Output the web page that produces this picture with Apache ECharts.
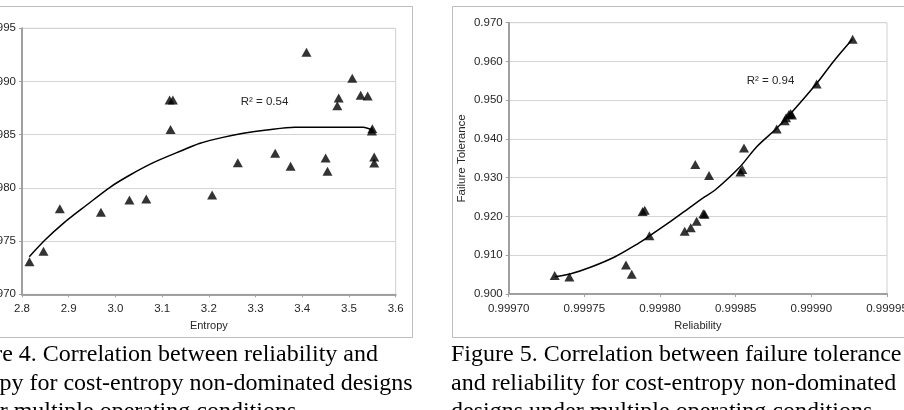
<!DOCTYPE html>
<html><head><meta charset="utf-8">
<script src="https://cdn.jsdelivr.net/npm/echarts@6/dist/echarts.min.js"></script>
<style>html,body{margin:0;padding:0;background:#fff;}#c{width:904px;height:410px;}</style>
</head><body><div id="c"></div>
<script>
// Figure 4: reliability vs entropy
const entropy = [2.816,2.846,2.881,2.969,3.030,3.066,3.118,3.116,3.123,3.207,3.262,3.342,3.375,3.409,3.450,3.454,3.475,3.478,3.507,3.525,3.540,3.549,3.550,3.554,3.554];
const reliabilityVsEntropy = [0.9997307,0.9997404,0.9997805,0.9997771,0.9997887,0.9997896,0.9998548,0.9998826,0.9998826,0.9997934,0.9998237,0.9998325,0.9998203,0.9999274,0.9998281,0.9998156,0.9998773,0.9998845,0.9999030,0.9998870,0.9998864,0.9998535,0.9998557,0.9998291,0.9998234];
const trend4X = [2.8156,2.8492,2.8884,2.9385,2.9884,3.0312,3.0811,3.1312,3.1811,3.2300,3.2738,3.3239,3.3845,3.4665,3.5307,3.5487];
const trend4Y = [0.9997353,0.9997510,0.9997667,0.9997839,0.9998006,0.9998121,0.9998237,0.9998331,0.9998419,0.9998475,0.9998513,0.9998544,0.9998570,0.9998570,0.9998570,0.9998544];
const xTicks4 = [2.8,2.9,3.0,3.1,3.2,3.3,3.4,3.5,3.6];
const yTicks4 = [0.99970,0.99975,0.99980,0.99985,0.99990,0.99995];

// Figure 5: failure tolerance vs reliability
const reliability = [0.9997304,0.9997401,0.9997775,0.9997813,0.9997885,0.9997899,0.9997930,0.9998163,0.9998203,0.9998233,0.9998242,0.9998286,0.9998295,0.9998324,0.9998531,0.9998544,0.9998555,0.9998771,0.9998824,0.9998833,0.9998852,0.9998863,0.9998872,0.9999035,0.9999273];
const failureTolerance = [0.9048,0.9044,0.9075,0.9051,0.9213,0.9216,0.9150,0.9162,0.9171,0.9334,0.9188,0.9207,0.9206,0.9306,0.9315,0.9321,0.9377,0.9426,0.9447,0.9455,0.9463,0.9466,0.9462,0.9542,0.9657];
const trend5X = [0.9997306,0.9997405,0.9997549,0.9997703,0.9997857,0.9997923,0.9998077,0.9998210,0.9998297,0.9998364,0.9998529,0.9998639,0.9998771,0.9998859,0.9999036,0.9999145,0.9999271];
const trend5Y = [0.90446,0.90516,0.90704,0.90962,0.91308,0.91478,0.91891,0.92270,0.92510,0.92683,0.93284,0.93800,0.94275,0.94636,0.95436,0.95993,0.96571];
const xTicks5 = [0.99970,0.99975,0.99980,0.99985,0.99990,0.99995];
const yTicks5 = [0.900,0.910,0.920,0.930,0.940,0.950,0.960,0.970];

const r2Label4 = 'R² = 0.54';
const r2Label5 = 'R² = 0.94';
const caption4 = ['Figure 4. Correlation between reliability and','entropy for cost-entropy non-dominated designs','under multiple operating conditions'];
const caption5 = ['Figure 5. Correlation between failure tolerance','and reliability for cost-entropy non-dominated','designs under multiple operating conditions'];

const zip = (a,b) => a.map((v,i)=>[v,b[i]]);
const SANS = '"Liberation Sans", Arial, sans-serif';
const SERIF = '"Liberation Serif", "Times New Roman", serif';
const TXT = '#262626';

function xAxisCfg(ticks, dec, name, gridIndex){
  return {
    type:'value', gridIndex, min:ticks[0], max:ticks[ticks.length-1], interval:+(ticks[1]-ticks[0]).toFixed(6),
    name, nameLocation:'middle', nameGap:26,
    nameTextStyle:{fontFamily:SANS,fontSize:11,color:TXT},
    axisLine:{show:true,onZero:false,lineStyle:{color:'#a0a0a0',width:2}},
    axisTick:{show:true,length:3,lineStyle:{color:'#a0a0a0'}},
    axisLabel:{fontFamily:SANS,fontSize:11.5,color:TXT,margin:9,hideOverlap:false,showMinLabel:true,showMaxLabel:true,formatter:v=>v.toFixed(dec)},
    splitLine:{show:false}
  };
}
function yAxisCfg(ticks, dec, name, gridIndex){
  return {
    type:'value', gridIndex, min:ticks[0], max:ticks[ticks.length-1], interval:+(ticks[1]-ticks[0]).toFixed(6),
    name, nameLocation:'middle', nameGap:41, nameRotate:90,
    nameTextStyle:{fontFamily:SANS,fontSize:11.5,color:TXT},
    axisLine:{show:true,onZero:false,lineStyle:{color:'#a0a0a0',width:2}},
    axisTick:{show:true,length:3,lineStyle:{color:'#a0a0a0'}},
    axisLabel:{fontFamily:SANS,fontSize:11.5,color:TXT,margin:6,formatter:v=>v.toFixed(dec)},
    splitLine:{show:true,lineStyle:{color:'#d4d4d4',width:1}}
  };
}

const chart = echarts.init(document.getElementById('c'), null, {renderer:'canvas'});
const capText = (lines, x, align) => lines.map((t,i)=>({
  type:'text',
  x: Array.isArray(x) ? x[i] : x, y: 355 + i*28.3,
  style:{text:t, font:'24px '+SERIF, fill:'#000', align: Array.isArray(align)?align[i]:align, verticalAlign:'middle'}
}));

chart.setOption({
  animation:false,
  backgroundColor:'#fff',
  grid:[
    {left:22, top:28.3, width:373.7, height:266, containLabel:false, outerBoundsMode:'none', show:true, borderColor:'#cfcfcf', borderWidth:1},
    {left:508.7, top:22.7, width:378.3, height:271.3, containLabel:false, outerBoundsMode:'none', show:true, borderColor:'#cfcfcf', borderWidth:1}
  ],
  xAxis:[ xAxisCfg(xTicks4,1,'Entropy',0), xAxisCfg(xTicks5,5,'Reliability',1) ],
  yAxis:[ yAxisCfg(yTicks4,5,'',0), yAxisCfg(yTicks5,3,'Failure Tolerance',1) ],
  series:[
    {type:'line', xAxisIndex:0, yAxisIndex:0, data:zip(trend4X,trend4Y), smooth:0.3, showSymbol:false,
     lineStyle:{color:'#000',width:1.5}, z:2, silent:true},
    {type:'scatter', xAxisIndex:0, yAxisIndex:0, data:zip(entropy,reliabilityVsEntropy), symbol:'triangle', symbolSize:[10,9],
     itemStyle:{color:'#000'}, z:3},
    {type:'line', xAxisIndex:1, yAxisIndex:1, data:zip(trend5X,trend5Y), smooth:0.3, showSymbol:false,
     lineStyle:{color:'#000',width:1.5}, z:2, silent:true},
    {type:'scatter', xAxisIndex:1, yAxisIndex:1, data:zip(reliability,failureTolerance), symbol:'triangle', symbolSize:[10,9],
     itemStyle:{color:'#000'}, z:3}
  ],
  graphic:[
    {type:'rect', shape:{x:-1, y:6.5, width:413.5, height:331}, style:{fill:'none', stroke:'#bdbdbd', lineWidth:1}, silent:true},
    {type:'rect', shape:{x:452.5, y:6.5, width:460, height:331}, style:{fill:'none', stroke:'#bdbdbd', lineWidth:1}, silent:true},
    {type:'text', x:240.7, y:101.7, style:{text:r2Label4, font:'11.5px '+SANS, fill:TXT, verticalAlign:'middle'}},
    {type:'text', x:746.7, y:81, style:{text:r2Label5, font:'11.5px '+SANS, fill:TXT, verticalAlign:'middle'}},
    ...capText(caption4, [378, 412.7, -47], ['right','right','left']),
    ...capText(caption5, 451, 'left')
  ]
});
</script></body></html>
